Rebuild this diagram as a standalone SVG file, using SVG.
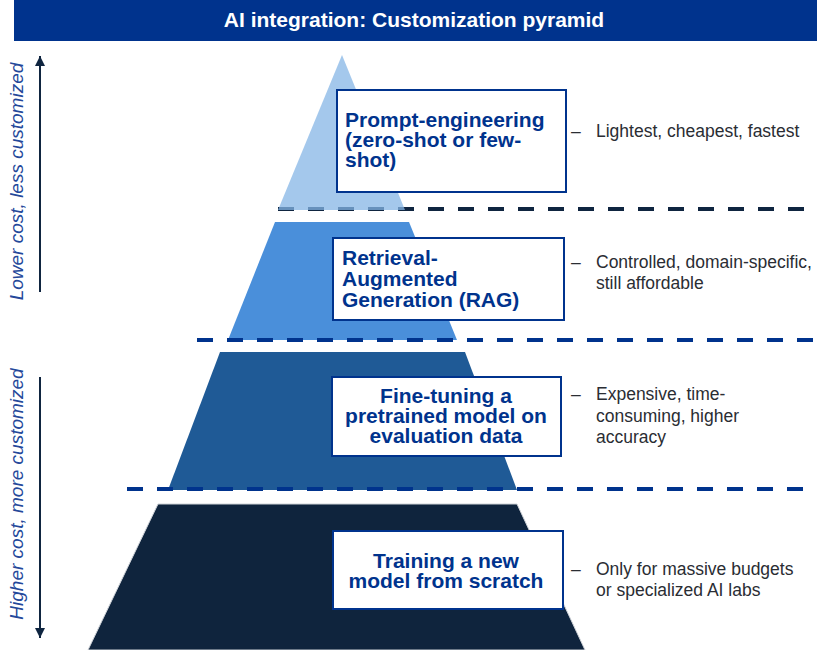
<svg xmlns="http://www.w3.org/2000/svg" width="817" height="650" viewBox="0 0 817 650">
  <style>
    .title { font-family: "Liberation Sans", Arial, sans-serif; font-weight: bold; font-size: 21px; fill: #ffffff; }
    .box { fill: #ffffff; stroke: #00338D; stroke-width: 2; }
    .label { font-family: "Liberation Sans", Arial, sans-serif; font-weight: bold; font-size: 21px; fill: #00338D; }
    .note { font-family: "Liberation Sans", Arial, sans-serif; font-size: 17.5px; fill: #2a2d33; }
    .axis { font-family: "Liberation Sans", Arial, sans-serif; font-style: italic; font-size: 19px; fill: #24489A; }
    .sep { fill: none; stroke-width: 4; stroke-dasharray: 16 14; }
    .arrow { stroke: #0F2540; stroke-width: 2; fill: none; }
  </style>
  <defs>
    <marker id="head" viewBox="0 0 10 10" refX="10" refY="5" markerWidth="10" markerHeight="10" markerUnits="userSpaceOnUse" orient="auto">
      <path d="M0,0 L10,5 L0,10 z" fill="#0F2540"/>
    </marker>
  </defs>

  <!-- header bar -->
  <g id="header">
    <rect x="14" y="0" width="803" height="41" fill="#00338D"/>
    <text class="title" x="414" y="27" text-anchor="middle">AI integration: Customization pyramid</text>
  </g>

  <!-- side axis labels -->
  <g id="axis-lower">
    <line class="arrow" x1="40" y1="292" x2="40" y2="56" marker-end="url(#head)"/>
    <text class="axis" transform="translate(22.5,181.5) rotate(-90)" text-anchor="middle">Lower cost, less customized</text>
  </g>
  <g id="axis-higher">
    <line class="arrow" x1="40" y1="377" x2="40" y2="638" marker-end="url(#head)"/>
    <text class="axis" transform="translate(22.5,494) rotate(-90)" text-anchor="middle">Higher cost, more customized</text>
  </g>

  <!-- tier separators and pyramid layers -->
  <g id="connectors">
    <line class="sep" x1="278" y1="209" x2="817" y2="209" stroke="#0F2540"/>
  </g>

  <g id="tier-prompt">
    <polygon points="342,55 405,210 278,210" fill="#86B6E6" fill-opacity="0.75"/>
  </g>
  <g id="tier-rag">
    <polygon points="275,222 409,222 457,340 228,340" fill="#4A8FDA"/>
  </g>
  <g id="tier-finetune">
    <polygon points="220,352 465,352 517,490 168,490" fill="#1F5A96"/>
  </g>
  <g id="tier-training">
    <polygon points="158,504 517,504 585,650 88,650" fill="#0F243D" stroke="#cfd3d8" stroke-width="1"/>
  </g>

  <g id="separators">
    <line class="sep" x1="197" y1="340" x2="817" y2="340" stroke="#00338D"/>
    <line class="sep" x1="127" y1="489" x2="817" y2="489" stroke="#00338D"/>
  </g>

  <!-- labelled boxes -->
  <g id="node-prompt">
    <rect class="box" x="337" y="90" width="229" height="102"/>
    <text class="label" x="345" y="127">Prompt-engineering</text>
    <text class="label" x="345" y="147">(zero-shot or few-</text>
    <text class="label" x="345" y="167">shot)</text>
  </g>
  <g id="node-rag">
    <rect class="box" x="333" y="238" width="231" height="82"/>
    <text class="label" x="342" y="265">Retrieval-</text>
    <text class="label" x="342" y="286">Augmented</text>
    <text class="label" x="342" y="306.5">Generation (RAG)</text>
  </g>
  <g id="node-finetune">
    <rect class="box" x="332" y="377" width="229" height="79"/>
    <text class="label" x="446" y="402.5" text-anchor="middle">Fine-tuning a</text>
    <text class="label" x="446" y="423" text-anchor="middle">pretrained model on</text>
    <text class="label" x="446" y="442.5" text-anchor="middle">evaluation data</text>
  </g>
  <g id="node-training">
    <rect class="box" x="333" y="531" width="230" height="78"/>
    <text class="label" x="446" y="568" text-anchor="middle">Training a new</text>
    <text class="label" x="446" y="587.5" text-anchor="middle">model from scratch</text>
  </g>

  <!-- notes on the right -->
  <g id="note-prompt">
    <text class="note" x="571" y="137">–</text>
    <text class="note" x="596" y="137">Lightest, cheapest, fastest</text>
  </g>
  <g id="note-rag">
    <text class="note" x="571" y="268">–</text>
    <text class="note" x="596" y="268">Controlled, domain-specific,</text>
    <text class="note" x="596" y="289">still affordable</text>
  </g>
  <g id="note-finetune">
    <text class="note" x="571" y="400">–</text>
    <text class="note" x="596" y="400">Expensive, time-</text>
    <text class="note" x="596" y="421.5">consuming, higher</text>
    <text class="note" x="596" y="443">accuracy</text>
  </g>
  <g id="note-training">
    <text class="note" x="571" y="575">–</text>
    <text class="note" x="596" y="575">Only for massive budgets</text>
    <text class="note" x="596" y="596">or specialized AI labs</text>
  </g>
</svg>
